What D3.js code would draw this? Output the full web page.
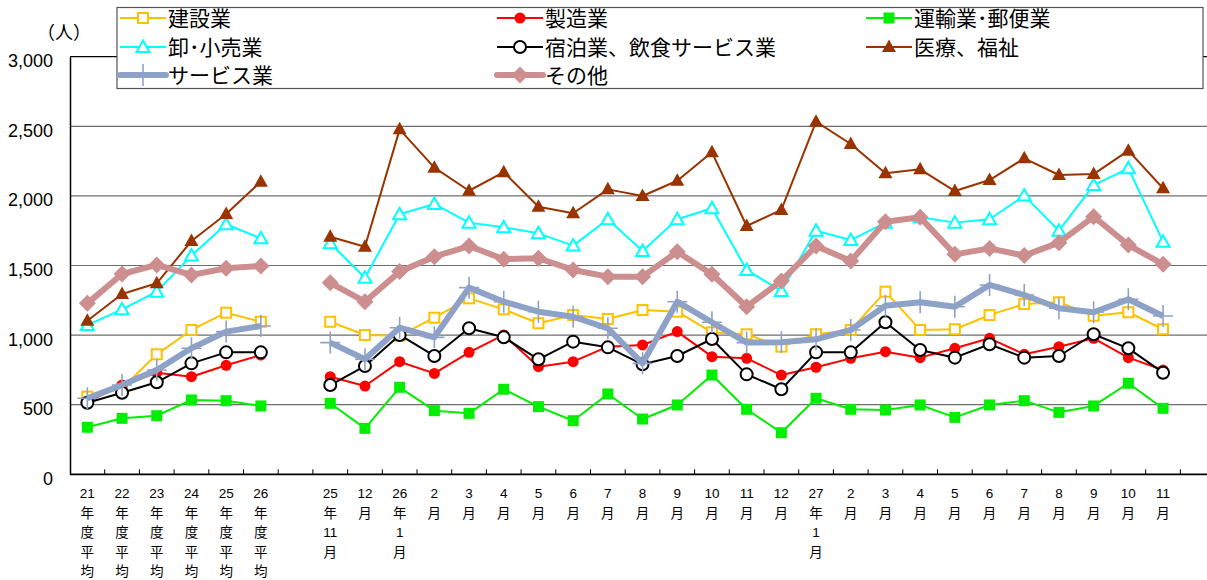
<!DOCTYPE html>
<html>
<head>
<meta charset="utf-8">
<script src="https://cdn.jsdelivr.net/npm/d3@7"></script>
<style>
body { margin: 0; background: #fff; }
svg { display: block; }
</style>
</head>
<body>
<div id="chart"></div>
<script>
// x categories (blank slots split the annual averages from the months)
const categories = [
  "21年度平均", "22年度平均", "23年度平均", "24年度平均", "25年度平均", "26年度平均", "",
  "25年11月", "12月", "26年1月", "2月", "3月", "4月", "5月", "6月", "7月", "8月", "9月", "10月", "11月", "12月",
  "27年1月", "2月", "3月", "4月", "5月", "6月", "7月", "8月", "9月", "10月", "11月", ""
];
const tickLines = [
  ["21","年","度","平","均"], ["22","年","度","平","均"], ["23","年","度","平","均"],
  ["24","年","度","平","均"], ["25","年","度","平","均"], ["26","年","度","平","均"], [],
  ["25","年","11","月"], ["12","月"], ["26","年","1","月"], ["2","月"], ["3","月"], ["4","月"],
  ["5","月"], ["6","月"], ["7","月"], ["8","月"], ["9","月"], ["10","月"], ["11","月"], ["12","月"],
  ["27","年","1","月"], ["2","月"], ["3","月"], ["4","月"], ["5","月"], ["6","月"], ["7","月"],
  ["8","月"], ["9","月"], ["10","月"], ["11","月"], []
];
const yTicks = [0, 500, 1000, 1500, 2000, 2500, 3000];

const kensetsu = [558, 618, 862, 1037, 1161, 1096, null,
  1096, 1001, 996, 1125, 1264, 1185, 1085, 1144, 1116, 1180, 1168, 1020, 1006, 917,
  1006, 1037, 1312, 1037, 1042, 1144, 1223, 1236, 1139, 1164, 1042, null];
const seizou = [520, 641, 730, 701, 783, 857, null,
  701, 634, 809, 725, 876, 1001, 773, 809, 917, 929, 1025, 845, 833, 713,
  769, 833, 881, 838, 905, 977, 862, 917, 977, 838, 749, null];
const unyu = [338, 402, 421, 534, 529, 491, null,
  510, 330, 625, 457, 438, 611, 486, 385, 577, 397, 498, 713, 467, 299,
  546, 467, 462, 498, 409, 498, 529, 445, 491, 654, 474, null];
const oroshi = [1072, 1185, 1312, 1571, 1796, 1695, null,
  1660, 1412, 1868, 1942, 1808, 1774, 1731, 1643, 1832, 1604, 1832, 1911, 1468, 1317,
  1750, 1683, 1808, 1846, 1808, 1832, 2002, 1750, 2078, 2198, 1671, null];
const shukuhaku = [514, 586, 661, 797, 876, 876, null,
  641, 778, 1001, 850, 1049, 984, 826, 953, 912, 790, 850, 972, 718, 611,
  876, 876, 1092, 893, 838, 934, 838, 850, 1006, 905, 730, null];
const iryou = [1103, 1295, 1372, 1676, 1870, 2102, null,
  1707, 1635, 2478, 2203, 2037, 2170, 1922, 1875, 2047, 1999, 2109, 2313, 1784, 1899,
  2533, 2373, 2162, 2191, 2035, 2114, 2270, 2150, 2157, 2325, 2055, null];
const service = [546, 641, 749, 905, 1025, 1065, null,
  946, 826, 1053, 984, 1341, 1240, 1168, 1132, 1049, 797, 1240, 1092, 946, 948,
  970, 1037, 1211, 1236, 1204, 1360, 1288, 1193, 1164, 1257, 1137, null];
const sonota = [1228, 1439, 1504, 1432, 1480, 1496, null,
  1376, 1240, 1456, 1563, 1640, 1545, 1552, 1468, 1420, 1420, 1599, 1437, 1204, 1389,
  1640, 1532, 1815, 1846, 1580, 1623, 1571, 1664, 1851, 1647, 1509, null];

const seriesNames = ["建設業", "製造業", "運輸業･郵便業", "卸･小売業", "宿泊業、飲食サービス業", "医療、福祉", "サービス業", "その他"];
const seriesValues = [kensetsu, seizou, unyu, oroshi, shukuhaku, iryou, service, sonota];

const styles = [
  { color: "#FFC000", width: 2, marker: "openSquare" },
  { color: "#FF0000", width: 2, marker: "dot" },
  { color: "#00EE00", width: 2, marker: "square" },
  { color: "#00FFFF", width: 2, marker: "openTriangle" },
  { color: "#000000", width: 2, marker: "openCircle" },
  { color: "#993300", width: 2, marker: "triangle" },
  { color: "#8EA2C8", width: 6, marker: "plus" },
  { color: "#CC8E8E", width: 6, marker: "diamond" }
];

const W = 1207, H = 580;
const plotLeft = 70, plotBottom = 474.3, plotTop = 56.7, step = 34.7;
const FONT = "'Noto Sans CJK JP', 'Noto Sans', sans-serif";
const NUMFONT = "'Liberation Sans', Arial, sans-serif";

const svg = d3.select("#chart").append("svg")
  .attr("width", W)
  .attr("height", H);

const x = d3.scaleBand()
  .domain(d3.range(categories.length))
  .range([plotLeft, plotLeft + step * categories.length]);
const y = d3.scaleLinear().domain([0, 3000]).range([plotBottom, plotTop]);
const cx = i => x(i) + x.bandwidth() / 2;

// gridlines
svg.append("g")
  .selectAll("line")
  .data(yTicks.filter(d => d > 0 && d < 3000))
  .join("line")
  .attr("x1", plotLeft).attr("x2", W)
  .attr("y1", d => y(d)).attr("y2", d => y(d))
  .attr("stroke", "#6e6e6e")
  .attr("stroke-width", 1.2);

// top border of the plot area
svg.append("line")
  .attr("x1", plotLeft).attr("x2", W)
  .attr("y1", y(3000)).attr("y2", y(3000))
  .attr("stroke", "#000").attr("stroke-width", 1.2);

// y axis
const yAxis = svg.append("g")
  .attr("transform", `translate(${plotLeft},0)`)
  .call(d3.axisLeft(y).tickValues(yTicks).tickSize(0).tickPadding(17)
    .tickFormat(d3.format(",")));
yAxis.select(".domain").attr("stroke", "#000").attr("stroke-width", 1.5);
yAxis.selectAll("text")
  .style("font-family", NUMFONT)
  .style("font-size", "18px")
  .attr("dy", "0.55em")
  .attr("fill", "#000");

// x axis with inside ticks
const xAxis = svg.append("g")
  .attr("transform", `translate(0,${plotBottom})`)
  .call(d3.axisBottom(x).tickValues(d3.range(1, categories.length)).tickSize(-5).tickFormat(""));
xAxis.select(".domain").attr("stroke", "#000").attr("stroke-width", 1.8).attr("d", `M${plotLeft},0H${W}`);
xAxis.selectAll(".tick line")
  .attr("stroke", "#000")
  .attr("transform", `translate(${-x.bandwidth() / 2},0)`);

// category labels, one character group per line
const labels = svg.append("g");
tickLines.forEach((lines, i) => {
  const t = labels.append("text")
    .attr("text-anchor", "middle")
    .style("font-family", FONT)
    .style("font-size", "13.5px")
    .attr("fill", "#000");
  lines.forEach((s, k) => {
    t.append("tspan")
      .attr("x", cx(i))
      .attr("y", 498 + k * 19.6)
      .style("font-family", /\d/.test(s) ? NUMFONT : FONT)
      .text(s);
  });
});

// unit label
svg.append("text")
  .attr("x", 37).attr("y", 39)
  .style("font-family", FONT)
  .style("font-size", "18px")
  .text("（人）");

function drawMarker(g, kind, color, px, py) {
  switch (kind) {
    case "openSquare":
      g.append("rect").attr("x", px - 5).attr("y", py - 5).attr("width", 10).attr("height", 10)
        .attr("fill", "#fff").attr("stroke", color).attr("stroke-width", 2);
      break;
    case "dot":
      g.append("circle").attr("cx", px).attr("cy", py).attr("r", 5.5).attr("fill", color);
      break;
    case "square":
      g.append("rect").attr("x", px - 5.5).attr("y", py - 5.5).attr("width", 11).attr("height", 11)
        .attr("fill", color);
      break;
    case "openTriangle":
      g.append("path").attr("d", `M${px},${py - 6.5}L${px + 6.5},${py + 5}L${px - 6.5},${py + 5}Z`)
        .attr("fill", "#fff").attr("stroke", color).attr("stroke-width", 2);
      break;
    case "openCircle":
      g.append("circle").attr("cx", px).attr("cy", py).attr("r", 6)
        .attr("fill", "#fff").attr("stroke", color).attr("stroke-width", 2);
      break;
    case "triangle":
      g.append("path").attr("d", `M${px},${py - 7.5}L${px + 7},${py + 5}L${px - 7},${py + 5}Z`)
        .attr("fill", color);
      break;
    case "plus":
      g.append("path").attr("d", `M${px},${py - 11}V${py + 11}M${px - 10},${py}H${px + 10}`)
        .attr("stroke", color).attr("stroke-width", 1.6).attr("fill", "none");
      break;
    case "diamond":
      g.append("path").attr("d", `M${px},${py - 8.5}L${px + 8.5},${py}L${px},${py + 8.5}L${px - 8.5},${py}Z`)
        .attr("fill", color);
      break;
  }
}

const line = d3.line()
  .defined(d => d != null)
  .x((d, i) => cx(i))
  .y(d => y(d));

seriesValues.forEach((vals, s) => {
  const st = styles[s];
  const g = svg.append("g");
  g.append("path")
    .datum(vals)
    .attr("d", line)
    .attr("fill", "none")
    .attr("stroke", st.color)
    .attr("stroke-width", st.width)
    .attr("stroke-linejoin", "round");
  vals.forEach((v, i) => {
    if (v != null) drawMarker(g, st.marker, st.color, cx(i), y(v));
  });
});

// legend
const lg = svg.append("g");
lg.append("rect")
  .attr("x", 117).attr("y", 7.5).attr("width", 1086).attr("height", 81)
  .attr("fill", "#fff").attr("stroke", "#555").attr("stroke-width", 1.2);
const colX = [120, 497, 866];
const rowY = [18, 47, 75];
seriesNames.forEach((name, s) => {
  const st = styles[s];
  const lx = colX[s % 3], ly = rowY[Math.floor(s / 3)];
  lg.append("line")
    .attr("x1", lx).attr("x2", lx + 46)
    .attr("y1", ly).attr("y2", ly)
    .attr("stroke", st.color).attr("stroke-width", st.width)
    .attr("stroke-linecap", st.width > 3 ? "round" : "butt");
  drawMarker(lg, st.marker, st.color, lx + 23, ly);
  lg.append("text")
    .attr("x", lx + 48).attr("y", ly + 7.5)
    .style("font-family", FONT)
    .style("font-size", "21px")
    .text(name);
});
</script>
</body>
</html>
